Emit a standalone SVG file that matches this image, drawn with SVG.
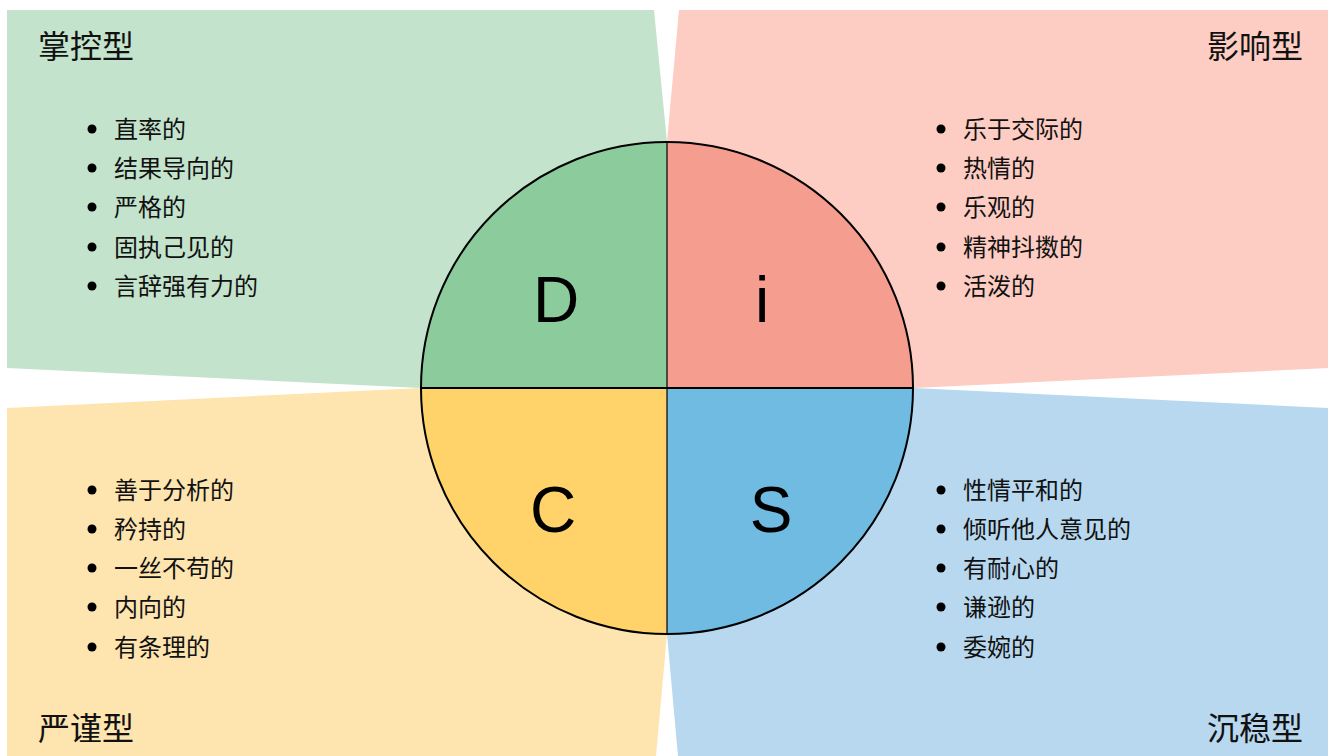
<svg xmlns="http://www.w3.org/2000/svg" width="1328" height="756" viewBox="0 0 1328 756">
<style>
.title{font-family:"Noto Sans CJK SC","Noto Sans",sans-serif;font-size:32px;fill:#111;}
.item{font-family:"Noto Sans CJK SC","Noto Sans",sans-serif;font-size:24px;fill:#111;}
.letter{font-family:"Liberation Sans",Arial,sans-serif;font-size:64px;fill:#000;text-anchor:middle;}
.dot{fill:#000;}
.q{stroke:none;}
</style>
<rect width="1328" height="756" fill="#ffffff"/>
<g id="bg-D"><polygon points="7,10 654,10 667,142 667,388 421,388 7,368" fill="#C4E3CC"/></g>
<g id="bg-i"><polygon points="679,10 1328,10 1328,368 913,388 667,388 667,142" fill="#FDCCC2"/></g>
<g id="bg-C"><polygon points="7,408 421,388 667,388 667,634 656,756 7,756" fill="#FEE4AF"/></g>
<g id="bg-S"><polygon points="913,388 1328,408 1328,756 678,756 667,634 667,388" fill="#B7D8EE"/></g>

<g id="node-D">
<path class="q" d="M667,388 L421,388 A246,246 0 0 1 667,142 Z" fill="#8BCB9C"/>
<text class="letter" x="556" y="322">D</text>
</g>
<g id="node-i">
<path class="q" d="M667,388 L667,142 A246,246 0 0 1 913,388 Z" fill="#F59E90"/>
<text class="letter" x="762" y="322">i</text>
</g>
<g id="node-S">
<path class="q" d="M667,388 L913,388 A246,246 0 0 1 667,634 Z" fill="#6FBBE2"/>
<text class="letter" x="771" y="532">S</text>
</g>
<g id="node-C">
<path class="q" d="M667,388 L667,634 A246,246 0 0 1 421,388 Z" fill="#FFD26A"/>
<text class="letter" x="553" y="532">C</text>
</g>

<g id="connectors" stroke="#000" fill="none">
<line x1="421" y1="388" x2="913" y2="388" stroke-width="2"/>
<line x1="667" y1="142" x2="667" y2="634" stroke-width="1.2"/>
<circle cx="667" cy="388" r="246" stroke-width="2"/>
</g>

<g id="label-D">
<text class="title" x="38" y="58">掌控型</text>
<circle class="dot" cx="92" cy="129" r="4.5"/><text class="item" x="114" y="138">直率的</text>
<circle class="dot" cx="92" cy="168" r="4.5"/><text class="item" x="114" y="177">结果导向的</text>
<circle class="dot" cx="92" cy="207" r="4.5"/><text class="item" x="114" y="216">严格的</text>
<circle class="dot" cx="92" cy="247" r="4.5"/><text class="item" x="114" y="256">固执己见的</text>
<circle class="dot" cx="92" cy="286" r="4.5"/><text class="item" x="114" y="295">言辞强有力的</text>
</g>
<g id="label-i">
<text class="title" x="1303" y="58" text-anchor="end">影响型</text>
<circle class="dot" cx="941" cy="129" r="4.5"/><text class="item" x="963" y="138">乐于交际的</text>
<circle class="dot" cx="941" cy="168" r="4.5"/><text class="item" x="963" y="177">热情的</text>
<circle class="dot" cx="941" cy="207" r="4.5"/><text class="item" x="963" y="216">乐观的</text>
<circle class="dot" cx="941" cy="247" r="4.5"/><text class="item" x="963" y="256">精神抖擞的</text>
<circle class="dot" cx="941" cy="286" r="4.5"/><text class="item" x="963" y="295">活泼的</text>
</g>
<g id="label-C">
<text class="title" x="38" y="740">严谨型</text>
<circle class="dot" cx="92" cy="490" r="4.5"/><text class="item" x="114" y="499">善于分析的</text>
<circle class="dot" cx="92" cy="529" r="4.5"/><text class="item" x="114" y="538">矜持的</text>
<circle class="dot" cx="92" cy="568" r="4.5"/><text class="item" x="114" y="577">一丝不苟的</text>
<circle class="dot" cx="92" cy="607" r="4.5"/><text class="item" x="114" y="616">内向的</text>
<circle class="dot" cx="92" cy="647" r="4.5"/><text class="item" x="114" y="656">有条理的</text>
</g>
<g id="label-S">
<text class="title" x="1303" y="740" text-anchor="end">沉稳型</text>
<circle class="dot" cx="941" cy="490" r="4.5"/><text class="item" x="963" y="499">性情平和的</text>
<circle class="dot" cx="941" cy="529" r="4.5"/><text class="item" x="963" y="538">倾听他人意见的</text>
<circle class="dot" cx="941" cy="568" r="4.5"/><text class="item" x="963" y="577">有耐心的</text>
<circle class="dot" cx="941" cy="607" r="4.5"/><text class="item" x="963" y="616">谦逊的</text>
<circle class="dot" cx="941" cy="647" r="4.5"/><text class="item" x="963" y="656">委婉的</text>
</g>
</svg>
